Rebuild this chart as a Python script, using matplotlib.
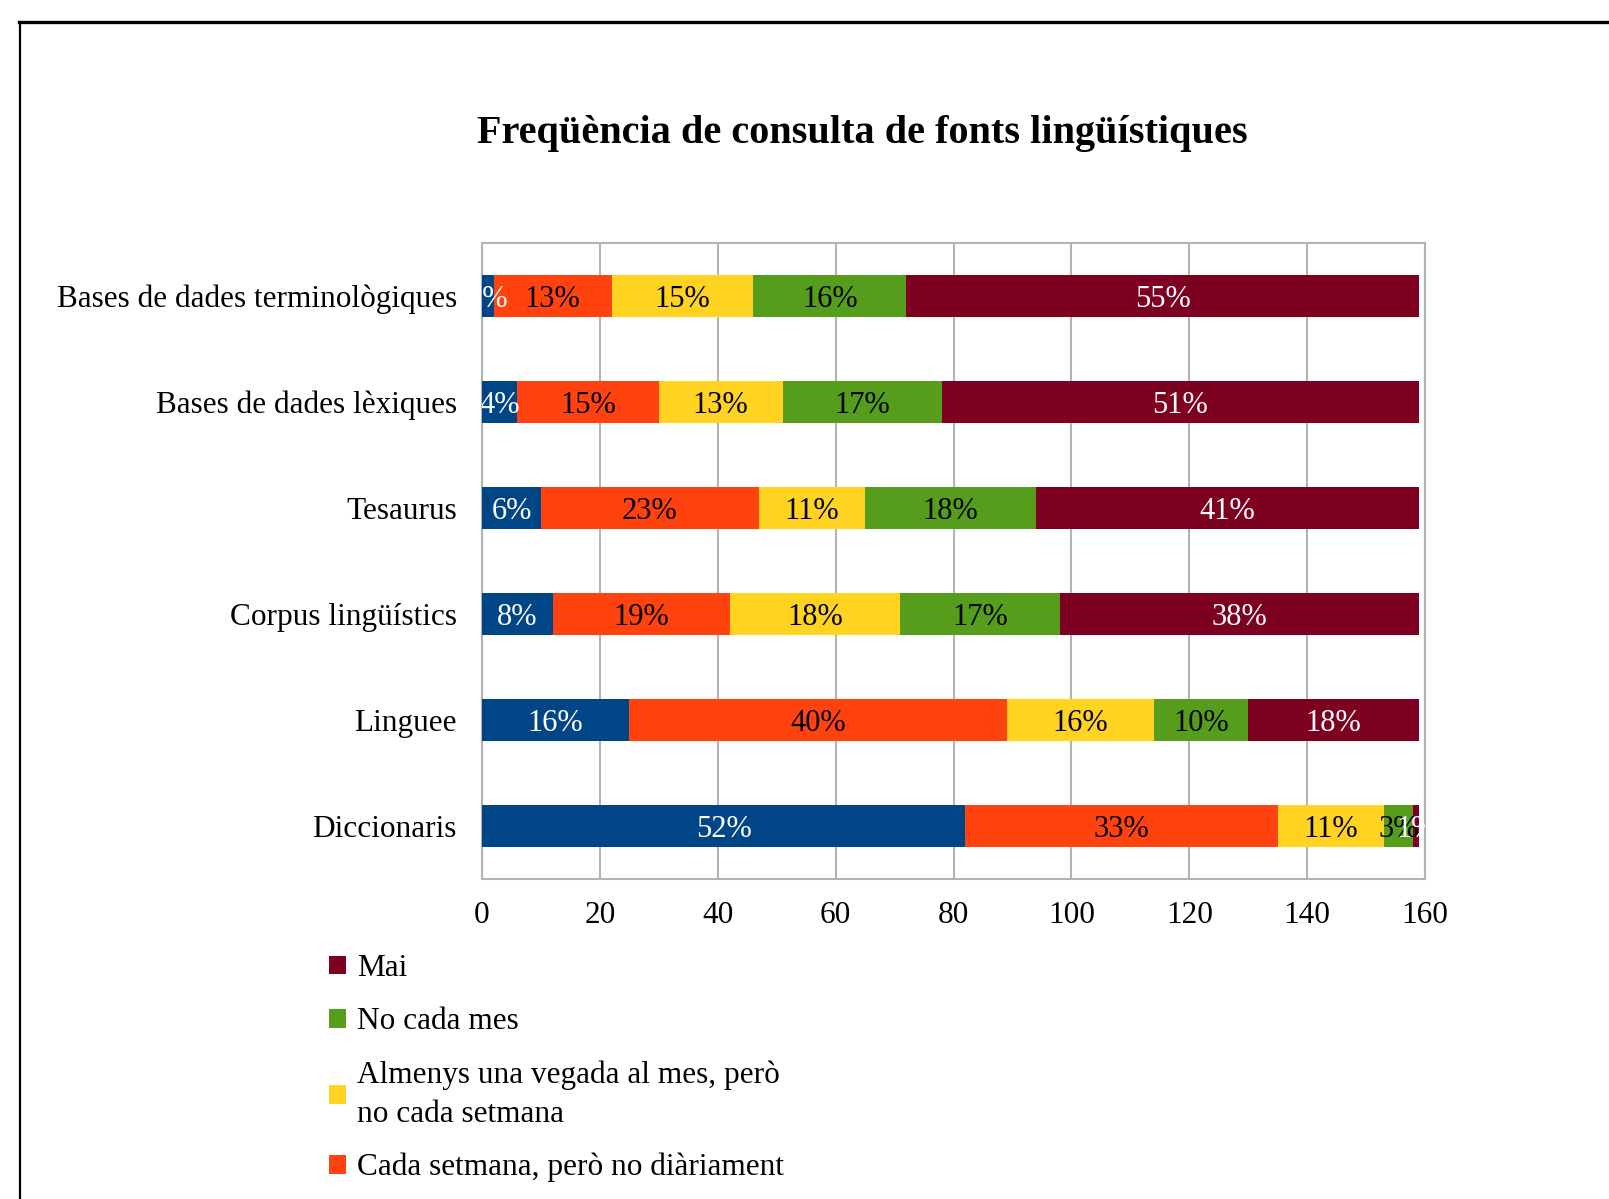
import numpy as np
import matplotlib
matplotlib.use("Agg")
from matplotlib import pyplot as plt
from matplotlib.lines import Line2D

plt.rcParams["font.family"] = ["Liberation Serif", "DejaVu Serif"]

# =============================================================================
# data (counts of answers)
# =============================================================================

sources = [
    "Bases de dades terminològiques",
    "Bases de dades lèxiques",
    "Tesaurus",
    "Corpus lingüístics",
    "Linguee",
    "Diccionaris",
]

diariament = [2, 6, 10, 12, 25, 82]
cada_setmana = [20, 24, 37, 30, 64, 53]
cada_mes = [24, 21, 18, 29, 25, 18]
no_cada_mes = [26, 27, 29, 27, 16, 5]
mai = [87, 81, 65, 61, 29, 1]

series_names = [
    "Diàriament",
    "Cada setmana, però no diàriament",
    "Almenys una vegada al mes, però\nno cada setmana",
    "No cada mes",
    "Mai",
]
series_values = [diariament, cada_setmana, cada_mes, no_cada_mes, mai]

x_ticks = [0, 20, 40, 60, 80, 100, 120, 140, 160]

# =============================================================================
# plot
# =============================================================================

colors = ["#004586", "#ff420e", "#ffd320", "#579d1c", "#7e0021"]
label_colors = ["white", "black", "black", "black", "white"]

fig = plt.figure(figsize=(16.09, 11.99), dpi=100)

# page frame
fig.add_artist(Line2D([0.012, 1.0], [1 - 21.5 / 1199, 1 - 21.5 / 1199],
                      color="black", lw=2.4, transform=fig.transFigure))
fig.add_artist(Line2D([19.5 / 1609, 19.5 / 1609], [0, 1 - 21.5 / 1199],
                      color="black", lw=1.6, transform=fig.transFigure))

ax = fig.add_axes([482 / 1609, 1 - 879 / 1199, 943 / 1609, 636 / 1199])

y = np.arange(len(sources))
totals = np.sum(np.array(series_values), axis=0)
left = np.zeros(len(sources))

bars = []
for vals, name, col, tcol in zip(series_values, series_names, colors, label_colors):
    vals = np.array(vals, dtype=float)
    b = ax.barh(y, vals, left=left, height=0.39, color=col, label=name, zorder=3)
    bars.append(b)
    for yi, (l, v, t) in enumerate(zip(left, vals, totals)):
        ax.text(l + v / 2, yi, f"{v / t:.0%}", ha="center", va="center_baseline",
                color=tcol, fontsize=22, zorder=4, clip_on=True)
    left += vals

ax.set_xlim(0, 160)
ax.set_ylim(-0.5, len(sources) - 0.5)
ax.invert_yaxis()
ax.set_yticks(y)
ax.set_yticklabels(sources, fontsize=22.5)
ax.set_xticks(x_ticks)
ax.set_xticklabels([str(t) for t in x_ticks], fontsize=22.5)
ax.tick_params(axis="both", length=0)
ax.tick_params(axis="x", pad=16)
ax.tick_params(axis="y", pad=18)

ax.grid(axis="x", color="#b3b3b3", lw=1.5, zorder=0)
ax.set_axisbelow(True)
for s in ax.spines.values():
    s.set_color("#b3b3b3")
    s.set_linewidth(1.5)

fig.text(862 / 1609, 1 - 133 / 1199, "Freqüència de consulta de fonts lingüístiques",
         ha="center", va="center", fontsize=29, fontweight="bold")

leg = fig.legend(
    handles=bars[::-1],
    labels=series_names[::-1],
    loc="upper left",
    bbox_to_anchor=(301 / 1609, 1 - 926 / 1199),
    frameon=False,
    fontsize=22.5,
    handlelength=0.55,
    handleheight=0.55,
    handletextpad=0.35,
    labelspacing=0.77,
)
for t in leg.get_texts():
    t.set_linespacing(1.45)

plt.savefig("out.png", dpi=100)
